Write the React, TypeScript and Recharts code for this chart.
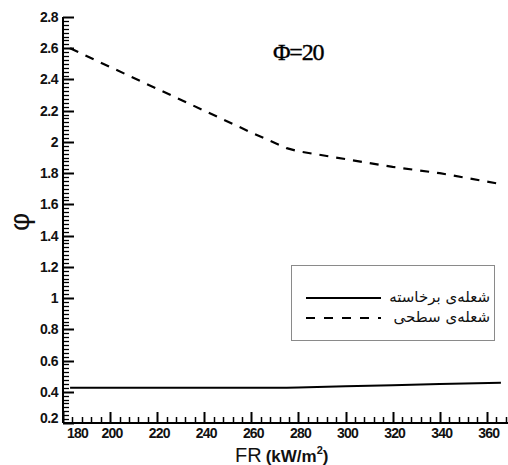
import React from 'react';
import { LineChart, Line, XAxis, YAxis, Legend } from 'recharts';

// FR (kW/m2) sample points
const frValues = [183, 200, 220, 240, 260, 275, 280, 300, 320, 340, 366];
// solid line (rising flame)
const risingFlame = [0.425, 0.425, 0.425, 0.425, 0.425, 0.426, 0.428, 0.435, 0.442, 0.449, 0.458];
// dashed line (surface flame)
const surfaceFlame = [2.6, 2.48, 2.34, 2.2, 2.06, 1.96, 1.94, 1.89, 1.84, 1.8, 1.73];

const seriesNames = ['شعله‌ی برخاسته', 'شعله‌ی سطحی'];
const xMajorTicks = [180, 200, 220, 240, 260, 280, 300, 320, 340, 360];
const yMajorTicks = [0.2, 0.4, 0.6, 0.8, 1, 1.2, 1.4, 1.6, 1.8, 2, 2.2, 2.4, 2.6, 2.8];
const yTickLabels = ['0.2', '0.4', '0.6', '0.8', '1', '1.2', '1.4', '1.6', '1.8', '2', '2.2', '2.4', '2.6', '2.8'];
const chartTitle = 'Φ=20';

const data = frValues.map((fr, i) => ({ fr, rising: risingFlame[i], surface: surfaceFlame[i] }));

// minor tick positions
const xAllTicks: number[] = [];
for (let v = 180; v <= 368; v += 4) xAllTicks.push(v);
const yAllTicks: number[] = [];
for (let i = 0; i <= 104; i++) yAllTicks.push(Math.round((0.2 + i * 0.025) * 1000) / 1000);

const isMajor = (list: number[], v: number) => list.some((t) => Math.abs(t - v) < 1e-6);

const XTick = (props: any) => {
  const { x, y, payload } = props;
  const v = Number(payload.value);
  const major = isMajor(xMajorTicks, v);
  const cx = Math.round(x) + 0.5;
  return (
    <g>
      <line x1={cx} y1={y} x2={cx} y2={y - (major ? 11 : 6)} stroke="#000" strokeWidth={major ? 2 : 1.5} />
      {major ? (
        <text
          x={v === 180 ? x + 4 : x + 2}
          y={y + 15}
          textAnchor={v === 180 ? 'start' : 'middle'}
          fontFamily="'Liberation Sans', Arial, sans-serif"
          fontWeight="bold"
          fontSize={14}
          letterSpacing={-0.8}
          fill="#111"
        >
          {v}
        </text>
      ) : null}
    </g>
  );
};

const YTick = (props: any) => {
  const { x, y, payload } = props;
  const v = Number(payload.value);
  const idx = yMajorTicks.findIndex((t) => Math.abs(t - v) < 1e-6);
  const major = idx >= 0;
  const cy = Math.round(y) + 0.5;
  return (
    <g>
      <line x1={x} y1={cy} x2={x + (major ? 11 : 6)} y2={cy} stroke="#000" strokeWidth={major ? 2 : 1.3} />
      {major ? (
        <text
          x={x - 5}
          y={y + 5 - (v === 0.2 ? 5 : 0)}
          textAnchor="end"
          fontFamily="'Liberation Sans', Arial, sans-serif"
          fontWeight="bold"
          fontSize={14}
          letterSpacing={-0.5}
          fill="#111"
        >
          {yTickLabels[idx]}
        </text>
      ) : null}
    </g>
  );
};

const LegendBox = () => (
  <div
    style={{
      width: 202,
      height: 74,
      border: '1px solid #8a8a8a',
      background: '#fff',
      position: 'relative',
      fontFamily: "'DejaVu Sans', sans-serif",
      fontSize: 15,
    }}
  >
    {seriesNames.map((name, i) => (
      <div key={name} style={{ position: 'absolute', left: 0, top: 22 + i * 20, width: 202, height: 20 }}>
        <svg width={90} height={20} style={{ position: 'absolute', left: 14, top: 0 }}>
          <line
            x1={0}
            y1={10}
            x2={75}
            y2={10}
            stroke="#000"
            strokeWidth={2}
            strokeDasharray={i === 1 ? '9 9' : undefined}
          />
        </svg>
        <div
          style={{
            position: 'absolute',
            right: 4,
            top: -1,
            lineHeight: '20px',
            direction: 'rtl',
            color: '#111',
            whiteSpace: 'nowrap',
          }}
        >
          {name}
        </div>
      </div>
    ))}
  </div>
);

export default function App() {
  return (
    <div style={{ position: 'absolute', left: 0, top: 0, width: 508, height: 465, background: '#fff' }}>
      <LineChart width={508} height={465} data={data} margin={{ top: 17, right: 0, bottom: 0, left: 8 }}>
        <XAxis
          dataKey="fr"
          type="number"
          domain={[180, 369]}
          ticks={xAllTicks}
          interval={0}
          tickLine={false}
          tickSize={0}
          tickMargin={0}
          tick={XTick}
          axisLine={{ stroke: '#000', strokeWidth: 2 }}
          height={42}
          allowDataOverflow
        />
        <XAxis
          xAxisId="top"
          orientation="top"
          dataKey="fr"
          type="number"
          domain={[180, 369]}
          tick={false}
          tickLine={false}
          height={0}
          axisLine={{ stroke: '#000', strokeWidth: 2 }}
        />
        <YAxis
          type="number"
          domain={[0.2, 2.8]}
          ticks={yAllTicks}
          interval={0}
          tickLine={false}
          tickSize={0}
          tickMargin={0}
          tick={YTick}
          axisLine={{ stroke: '#000', strokeWidth: 2 }}
          width={55}
          allowDataOverflow
        />
        <Legend
          layout="vertical"
          align="center"
          verticalAlign="middle"
          content={<LegendBox />}
          wrapperStyle={{ left: 291, top: 265, width: 204, height: 76 }}
        />
        <Line
          dataKey="rising"
          name={seriesNames[0]}
          stroke="#000"
          strokeWidth={2}
          dot={false}
          isAnimationActive={false}
        />
        <Line
          dataKey="surface"
          name={seriesNames[1]}
          stroke="#000"
          strokeWidth={2.2}
          strokeDasharray="9 8"
          dot={false}
          isAnimationActive={false}
        />
      </LineChart>
      <svg width={508} height={465} style={{ position: 'absolute', left: 0, top: 0, pointerEvents: 'none' }}>
        <text
          x={273}
          y={60}
          fontFamily="'Liberation Serif', 'Times New Roman', serif"
          fontSize={24}
          letterSpacing={-1.2}
          fill="#000"
          stroke="#000"
          strokeWidth={0.4}
        >
          {chartTitle}
        </text>
        <text
          x={19}
          y={222}
          transform="rotate(-90 19 222)"
          textAnchor="middle"
          dominantBaseline="central"
          fontFamily="'Liberation Sans', Arial, sans-serif"
          fontSize={28}
          fill="#111"
        >
          φ
        </text>
        <text x={235} y={462} fontFamily="'Liberation Sans', Arial, sans-serif" fill="#111">
          <tspan fontSize={20}>FR</tspan>
          <tspan fontSize={17} fontWeight="bold" dx={4}>(kW/m</tspan>
          <tspan fontSize={11} fontWeight="bold" dy={-8}>2</tspan>
          <tspan fontSize={17} fontWeight="bold" dy={8}>)</tspan>
        </text>
      </svg>
    </div>
  );
}
